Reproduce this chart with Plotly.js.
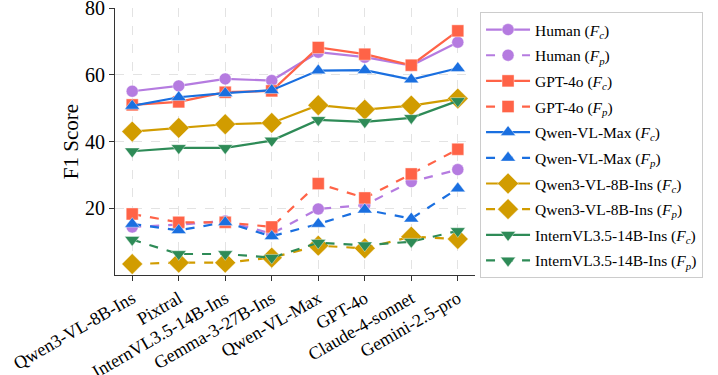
<!DOCTYPE html>
<html>
<head>
<meta charset="utf-8">
<script src="https://cdn.plot.ly/plotly-3.0.1.min.js"></script>
<style>
  html, body { margin: 0; padding: 0; background: #fff; }
  #chart { width: 718px; height: 375px; }
</style>
</head>
<body>
<div id="chart"></div>
<script>
const models = [
  "Qwen3-VL-8B-Ins", "Pixtral", "InternVL3.5-14B-Ins", "Gemma-3-27B-Ins",
  "Qwen-VL-Max", "GPT-4o", "Claude-4-sonnet", "Gemini-2.5-pro",
];

const human_fc = [55.1, 56.7, 58.8, 58.3, 66.8, 65.3, 62.8, 69.8];
const human_fp = [14.4, 15.1, 16.2, 12.4, 19.8, 21.0, 28.0, 31.6];
const gpt4o_fc = [51.0, 51.9, 54.8, 55.2, 68.2, 66.2, 62.9, 73.2];
const gpt4o_fp = [18.3, 15.8, 15.8, 14.4, 27.4, 23.1, 30.3, 37.7];
const qwenmax_fc = [50.7, 53.3, 54.5, 55.4, 61.3, 61.4, 58.6, 62.0];
const qwenmax_fp = [15.3, 13.4, 15.8, 11.6, 15.3, 19.6, 16.9, 25.9];
const qwen3_fc = [43.0, 44.1, 45.2, 45.6, 50.9, 49.6, 50.8, 52.9];
const qwen3_fp = [3.3, 3.7, 3.7, 5.2, 8.8, 8.0, 11.5, 10.8];
const intern_fc = [37.1, 38.1, 38.1, 40.3, 46.5, 45.9, 47.1, 52.2];
const intern_fp = [10.6, 6.3, 6.3, 5.2, 9.7, 8.9, 10.0, 13.2];

const series = [
  { label: "Human", fc: human_fc, fp: human_fp, color: "#b57be0", symbol: "circle", size: 12 },
  { label: "GPT-4o", fc: gpt4o_fc, fp: gpt4o_fp, color: "#ff6347", symbol: "square", size: 12 },
  { label: "Qwen-VL-Max", fc: qwenmax_fc, fp: qwenmax_fp, color: "#1a6fe0", symbol: "triangle-up", size: 13 },
  { label: "Qwen3-VL-8B-Ins", fc: qwen3_fc, fp: qwen3_fp, color: "#d19c00", symbol: "diamond", size: 16 },
  { label: "InternVL3.5-14B-Ins", fc: intern_fc, fp: intern_fp, color: "#2e8b57", symbol: "triangle-down", size: 13 },
];

const x_idx = models.map((_, i) => i);

const data = [];
series.forEach(s => {
  [["fc", "solid", "c"], ["fp", "dash", "p"]].forEach(([key, dash, sub]) => {
    data.push({
      name: s.label + " (<i>F</i><sub><i>" + sub + "</i></sub>)",
      legendgroup: s.label + key,
      x: x_idx,
      y: s[key],
      mode: "lines+markers",
      type: "scatter",
      line: { color: s.color, width: 2.2, dash: dash },
      marker: {
        color: s.color,
        symbol: s.symbol,
        size: s.size,
        line: { color: "rgba(255,255,255,0.5)", width: 0.8 },
      },
    });
  });
});

const layout = {
  width: 718,
  height: 375,
  margin: { l: 115, r: 243, t: 8, b: 100 },
  paper_bgcolor: "#fff",
  plot_bgcolor: "#fff",
  font: { family: "Liberation Serif", color: "#000" },
  showlegend: true,
  legend: {
    x: 1.014, y: 0.985, xanchor: "left", yanchor: "top",
    bordercolor: "#cccccc", borderwidth: 1,
    font: { size: 15.5 },
    itemwidth: 44,
    tracegroupgap: 2.5,
  },
  xaxis: {
    range: [-0.37, 7.37],
    tickmode: "array",
    tickvals: x_idx,
    ticktext: models,
    tickangle: -30,
    tickfont: { size: 18 },
    ticks: "outside", ticklen: 5, tickcolor: "#333",
    showline: true, linecolor: "#333", linewidth: 1.2,
    showgrid: true, gridcolor: "#e3e3e3", griddash: "dash", gridwidth: 1,
    zeroline: false,
  },
  yaxis: {
    title: { text: "F1 Score", font: { size: 21 }, standoff: 0 },
    range: [0, 80.05],
    tickvals: [20, 40, 60, 80],
    tickfont: { size: 20 },
    ticklabeloverflow: "allow",
    ticks: "outside", ticklen: 5, tickcolor: "#333",
    showline: true, linecolor: "#333", linewidth: 1.2,
    showgrid: true, gridcolor: "#e3e3e3", griddash: "dash", gridwidth: 1,
    zeroline: false,
  },
};

Plotly.newPlot("chart", data, layout, { displayModeBar: false });
</script>
</body>
</html>
